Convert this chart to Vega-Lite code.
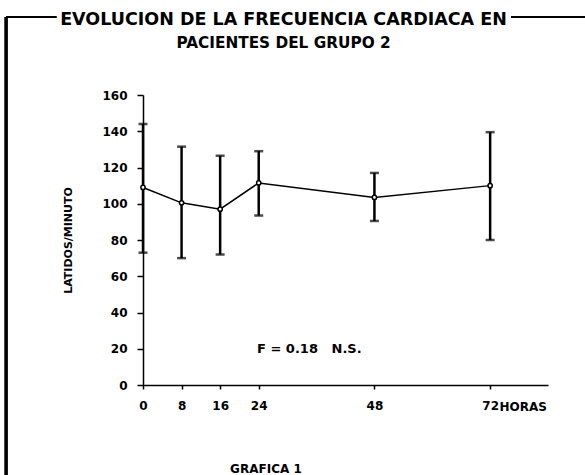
{
  "$schema": "https://vega.github.io/schema/vega-lite/v6.json",
  "width": 405,
  "height": 290,
  "autosize": "none",
  "padding": {"left": 143, "top": 95, "right": 37, "bottom": 90},
  "background": "white",
  "config": {
    "view": {"stroke": null},
    "font": "DejaVu Sans",
    "axis": {"grid": false, "domainColor": "black", "tickColor": "black", "labelColor": "black", "titleColor": "black", "labelFont": "DejaVu Sans", "labelFontWeight": "bold", "labelFontSize": 12, "titleFont": "DejaVu Sans", "titleFontWeight": "bold", "domainWidth": 1.5, "tickWidth": 1.5, "labelOverlap": false, "labelFlush": false}
  },
  "title": {
    "text": "EVOLUCION DE LA FRECUENCIA CARDIACA EN",
    "subtitle": "PACIENTES DEL GRUPO 2",
    "font": "DejaVu Sans",
    "fontSize": 17.5,
    "fontWeight": "bold",
    "color": "black",
    "subtitleFont": "DejaVu Sans",
    "subtitleFontSize": 15.3,
    "subtitleFontWeight": "bold",
    "subtitleColor": "black",
    "subtitlePadding": 7,
    "anchor": "middle",
    "dx": -62,
    "offset": -35
  },
  "data": {
    "values": [
      {"hora": 0, "media": 109, "bajo": 73, "alto": 144},
      {"hora": 8, "media": 100.5, "bajo": 70, "alto": 131.5},
      {"hora": 16, "media": 97, "bajo": 72, "alto": 126.5},
      {"hora": 24, "media": 111.5, "bajo": 93.5, "alto": 129},
      {"hora": 48, "media": 103.5, "bajo": 90.5, "alto": 117},
      {"hora": 72, "media": 110, "bajo": 80, "alto": 139.5}
    ]
  },
  "layer": [
    {
      "mark": {"type": "line", "color": "black", "strokeWidth": 1.5},
      "encoding": {
        "x": {"field": "hora", "type": "quantitative", "scale": {"domain": [0, 84], "nice": false},
          "axis": {"values": [0, 8, 16, 24, 48, 72], "tickSize": 4, "labelPadding": 11, "title": "HORAS", "titleFontSize": 12, "titleX": 356, "titleY": 21, "titleAlign": "left", "titleBaseline": "middle", "titleAngle": 0}},
        "y": {"field": "media", "type": "quantitative", "scale": {"domain": [0, 160], "nice": false},
          "axis": {"values": [0, 20, 40, 60, 80, 100, 120, 140, 160], "tickCount": 9, "tickSize": 6, "labelPadding": 10, "title": "LATIDOS/MINUTO", "titleFontSize": 11, "titlePadding": 28}}
      }
    },
    {
      "mark": {"type": "rule", "color": "black", "strokeWidth": 2.5},
      "encoding": {
        "x": {"datum": -28.4, "type": "quantitative"},
        "y": {"datum": -50, "type": "quantitative", "axis": {"values": [0, 20, 40, 60, 80, 100, 120, 140, 160], "tickCount": 9, "tickSize": 6, "labelPadding": 10, "title": "LATIDOS/MINUTO", "titleFontSize": 11, "titlePadding": 28}},
        "y2": {"datum": 203}
      }
    },
    {
      "mark": {"type": "rule", "color": "black", "strokeWidth": 2},
      "encoding": {
        "x": {"datum": -28.4, "type": "quantitative"},
        "x2": {"datum": -18},
        "y": {"datum": 203, "type": "quantitative"}
      }
    },
    {
      "mark": {"type": "rule", "color": "black", "strokeWidth": 1.5},
      "encoding": {
        "x": {"datum": 76.4, "type": "quantitative"},
        "x2": {"datum": 92},
        "y": {"datum": 203, "type": "quantitative"}
      }
    },
    {
      "mark": {"type": "errorbar", "color": "black", "rule": {"strokeWidth": 2.5}, "ticks": {"size": 9, "thickness": 2.5, "color": "black"}},
      "encoding": {
        "x": {"field": "hora", "type": "quantitative"},
        "y": {"field": "bajo", "type": "quantitative", "title": "LATIDOS/MINUTO",
          "axis": {"values": [0, 20, 40, 60, 80, 100, 120, 140, 160], "tickCount": 9, "tickSize": 6, "labelPadding": 10, "title": "LATIDOS/MINUTO", "titleFontSize": 11, "titlePadding": 28}},
        "y2": {"field": "alto"}
      }
    },
    {
      "mark": {"type": "point", "shape": "circle", "filled": false, "fill": "white", "stroke": "black", "strokeWidth": 1.5, "size": 18, "opacity": 1},
      "encoding": {
        "x": {"field": "hora", "type": "quantitative"},
        "y": {"field": "media", "type": "quantitative"}
      }
    },
    {
      "data": {"values": [{"hora": 34.5, "valor": 20, "texto": "F = 0.18\u00a0\u00a0\u00a0N.S."}]},
      "mark": {"type": "text", "font": "DejaVu Sans", "fontWeight": "bold", "fontSize": 13, "color": "black", "align": "center", "baseline": "middle"},
      "encoding": {
        "x": {"field": "hora", "type": "quantitative"},
        "y": {"field": "valor", "type": "quantitative"},
        "text": {"field": "texto"}
      }
    },
    {
      "data": {"values": [{"hora": 25.5, "valor": -43.5, "texto": "GRAFICA 1"}]},
      "mark": {"type": "text", "font": "DejaVu Sans", "fontWeight": "bold", "fontSize": 12, "color": "black", "align": "center", "baseline": "top"},
      "encoding": {
        "x": {"field": "hora", "type": "quantitative"},
        "y": {"field": "valor", "type": "quantitative"},
        "text": {"field": "texto"}
      }
    }
  ]
}
